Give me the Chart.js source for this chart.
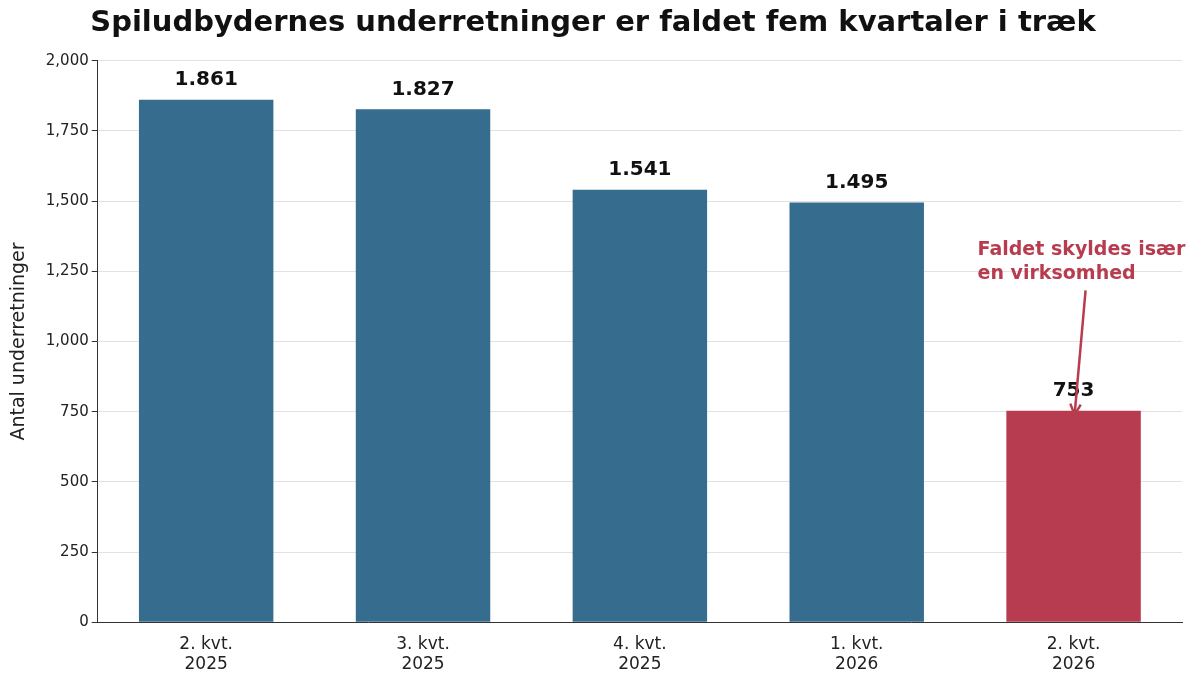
<!DOCTYPE html>
<html><head><meta charset="utf-8">
<script src="https://cdn.jsdelivr.net/npm/chart.js@4/dist/chart.umd.min.js"></script>
<style>html,body{margin:0;padding:0;background:#fff}#w{width:1200px;height:685px}</style>
</head><body><div id="w"><canvas id="c"></canvas></div>
<script>
const categories = [["2. kvt.","2025"],["3. kvt.","2025"],["4. kvt.","2025"],["1. kvt.","2026"],["2. kvt.","2026"]];
const values = [1861, 1827, 1541, 1495, 753];
const valueLabels = ["1.861","1.827","1.541","1.495","753"];
const barColors = ["#366d8f","#366d8f","#366d8f","#366d8f","#b83c4f"];
const annotationLines = ["Faldet skyldes især","en virksomhed"];
const F = "'DejaVu Sans', sans-serif";

const labelPlugin = {
  id:'lbl',
  afterDatasetsDraw(chart){
    const ctx = chart.ctx, meta = chart.getDatasetMeta(0);
    ctx.save();
    ctx.font = "bold 20px " + F; ctx.fillStyle = "#111"; ctx.textAlign = "center"; ctx.textBaseline = "bottom";
    meta.data.forEach((b,i)=>ctx.fillText(valueLabels[i], b.x, b.y - 10));
    // annotation
    const b = meta.data[4];
    const y = chart.scales.y;
    ctx.fillStyle = "#b83c4f"; ctx.font = "bold 19px " + F; ctx.textAlign = "left"; ctx.textBaseline = "middle";
    const tx = b.x - 96, ty = y.getPixelForValue(1325);
    ctx.fillText(annotationLines[0], tx, ty);
    ctx.fillText(annotationLines[1], tx, ty + 24);
    const x1 = b.x + 12, y1 = ty + 40, x2 = b.x + 1, y2 = y.getPixelForValue(values[4]) + 4;
    ctx.strokeStyle = "#b83c4f"; ctx.lineWidth = 2.5;
    ctx.beginPath(); ctx.moveTo(x1,y1); ctx.lineTo(x2,y2); ctx.stroke();
    const a = Math.atan2(y2-y1, x2-x1);
    ctx.beginPath(); ctx.moveTo(x2,y2);
    ctx.lineTo(x2 - 12*Math.cos(a-0.45), y2 - 12*Math.sin(a-0.45));
    ctx.moveTo(x2,y2);
    ctx.lineTo(x2 - 12*Math.cos(a+0.45), y2 - 12*Math.sin(a+0.45));
    ctx.stroke();
    ctx.restore();
  }
};

new Chart(document.getElementById('c'), {
  type:'bar',
  data:{labels:categories, datasets:[{data:values, backgroundColor:barColors, barPercentage:0.62, categoryPercentage:1}]},
  options:{
    responsive:true, maintainAspectRatio:false, animation:false,
    layout:{padding:{left:4,right:18,top:0,bottom:6}},
    plugins:{legend:{display:false}, tooltip:{enabled:false},
      title:{display:true, text:"Spiludbydernes underretninger er faldet fem kvartaler i træk",
        font:{family:F, size:29, weight:'bold'}, color:'#111', padding:{top:6,bottom:20}}},
    scales:{
      x:{grid:{display:false}, border:{color:'#333'},
         ticks:{font:{family:F,size:17}, color:'#222', padding:4}},
      y:{min:0,max:2000, border:{color:'#333'},
         grid:{color:'#e2e2e2', drawTicks:true, tickColor:'#333', tickLength:6},
         ticks:{stepSize:250, font:{family:F,size:15}, color:'#222'},
         title:{display:true, text:"Antal underretninger", font:{family:F,size:19}, color:'#222', padding:{bottom:12}}}
    }
  },
  plugins:[labelPlugin]
});
</script></body></html>
